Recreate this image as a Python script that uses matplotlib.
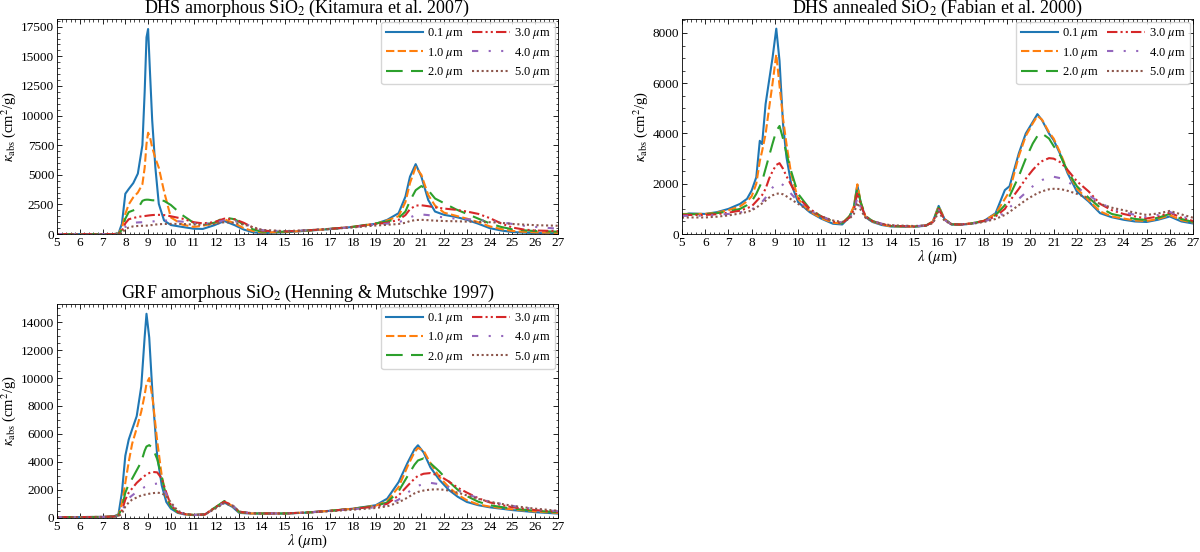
"""
plot.py

Mass absorption coefficient of SiO2 grains for several grain sizes,
three optical-constant sets (DHS amorphous, DHS annealed, GRF amorphous).
"""

import matplotlib
matplotlib.use("Agg")
import matplotlib.pyplot as plt
from matplotlib.ticker import AutoMinorLocator, MultipleLocator

plt.rcParams["font.family"] = ["Liberation Serif", "DejaVu Serif"]
plt.rcParams["mathtext.fontset"] = "stix"
plt.rcParams["xtick.direction"] = "in"
plt.rcParams["ytick.direction"] = "in"
plt.rcParams["xtick.top"] = True
plt.rcParams["ytick.right"] = True
plt.rcParams["axes.linewidth"] = 0.6

# grain sizes (legend) and line styles
sizes = ["0.1", "1.0", "2.0", "3.0", "4.0", "5.0"]
colors = ["#1f77b4", "#ff7f0e", "#2ca02c", "#d62728", "#9467bd", "#8c564b"]
styles = ["-", (0, (4, 1.6)), (0, (8, 4)), (0, (5, 1.5, 1, 1.5, 1, 1.5)),
          (0, (3, 5, 1, 5, 1, 5)), (0, (1, 1.3))]

# ---- DHS amorphous SiO2 (Kitamura et al. 2007) ----
title1 = r"DHS amorphous SiO$_2$ (Kitamura et al. 2007)"
wl1 = [5, 7.5, 7.7, 7.85, 8.0, 8.15, 8.35, 8.55, 8.75, 8.85, 8.93, 9.0, 9.08, 9.18,
       9.32, 9.47, 9.7, 10.0, 10.5, 11.0, 11.4, 11.9, 12.35, 12.8, 13.2, 13.6, 14.0,
       15, 16, 17, 18, 19, 19.5, 20.0, 20.3, 20.5, 20.75, 21.0, 21.3, 21.6, 22.0,
       22.5, 23.0, 23.5, 24.0, 24.5, 25.0, 25.5, 26.0, 27.0]
k1_01 = [0, 0, 50, 870, 3400, 3800, 4300, 5100, 7500, 12000, 16600, 17300, 13800, 9600,
         5600, 2550, 1150, 760, 600, 450, 430, 740, 1100, 750, 380, 150, 80,
         150, 280, 420, 600, 870, 1200, 1760, 3160, 4840, 5900, 4840, 2880, 1900, 1620,
         1450, 1200, 870, 500, 300, 170, 120, 80, 50]
k1_10 = [0, 0, 30, 500, 1700, 2500, 3100, 3500, 4200, 5600, 7600, 8550, 8200, 7300,
         6400, 5600, 3600, 1400, 800, 600, 700, 900, 1250, 900, 500, 250, 130,
         170, 290, 430, 610, 870, 1150, 1500, 2700, 4300, 5650, 5000, 3300, 2400, 1800,
         1550, 1300, 1000, 650, 420, 260, 190, 150, 100]
k1_20 = [0, 0, 20, 350, 1300, 1850, 2000, 2150, 2800, 2880, 2900, 2900, 2880, 2850,
         2840, 2830, 2800, 2450, 1600, 950, 800, 950, 1400, 1250, 800, 400, 200,
         200, 300, 440, 610, 900, 1050, 1350, 1900, 2800, 3700, 4050, 3700, 3000, 2600,
         2100, 1700, 1300, 900, 600, 400, 320, 250, 200]
k1_30 = [0, 0, 10, 250, 900, 1250, 1350, 1450, 1500, 1520, 1540, 1560, 1580, 1600,
         1620, 1620, 1600, 1500, 1300, 1000, 900, 1000, 1300, 1250, 950, 550, 280,
         220, 310, 440, 600, 850, 950, 1200, 1600, 2100, 2400, 2430, 2350, 2250, 2150,
         2050, 1900, 1700, 1350, 900, 550, 380, 300, 250]
k1_40 = [0, 0, 10, 150, 600, 800, 950, 980, 1000, 1000, 1000, 1000, 1020, 1050,
         1100, 1130, 1150, 1120, 1050, 900, 850, 950, 1150, 1100, 900, 600, 320,
         240, 320, 440, 580, 800, 880, 1000, 1200, 1400, 1600, 1650, 1600, 1500, 1400,
         1300, 1250, 1200, 1100, 1000, 850, 700, 600, 450]
k1_50 = [0, 0, 5, 100, 400, 550, 650, 680, 700, 700, 710, 720, 740, 760,
         800, 830, 850, 860, 850, 800, 780, 850, 1000, 950, 800, 580, 350,
         250, 320, 430, 560, 720, 780, 850, 950, 1100, 1180, 1200, 1170, 1130, 1100,
         1080, 1050, 1020, 1000, 950, 850, 800, 750, 700]

# ---- DHS annealed SiO2 (Fabian et al. 2000) ----
title2 = r"DHS annealed SiO$_2$ (Fabian et al. 2000)"
wl2 = [5.0, 5.3, 6.0, 6.5, 7.0, 7.5, 7.8, 8.0, 8.2, 8.35, 8.45, 8.6, 8.75, 8.9, 9.06,
       9.2, 9.35, 9.5, 9.7, 10.0, 10.5, 11.0, 11.5, 11.9, 12.2, 12.4, 12.55, 12.7,
       12.9, 13.2, 13.6, 14.0, 15.0, 15.5, 15.8, 16.05, 16.3, 16.6, 17.0, 17.5, 18.0,
       18.5, 18.9, 19.1, 19.5, 19.8, 20.1, 20.3, 20.5, 20.8, 21.0, 21.3, 21.6, 22.0,
       22.5, 23.0, 23.5, 24.0, 24.5, 25.0, 25.5, 26.0, 26.5, 27.0]
k2_01 = [740, 820, 800, 870, 1000, 1200, 1400, 1730, 2260, 3710, 3580, 5170, 6100, 7020, 8170,
         6890, 4380, 3050, 2000, 1270, 870, 610, 410, 380, 670, 1070, 1950, 1200,
         670, 480, 360, 300, 290, 330, 500, 1120, 600, 380, 370, 420, 520,
         830, 1750, 1900, 3210, 4000, 4460, 4770, 4530, 4000, 3740, 3140, 2420, 1690,
         1300, 830, 670, 570, 500, 480, 570, 700, 500, 420]
k2_10 = [800, 800, 800, 850, 950, 1100, 1300, 1500, 2000, 2900, 3300, 3980, 5000, 6000, 7150,
         5900, 4600, 3580, 2390, 1400, 900, 630, 450, 420, 700, 1100, 1980, 1250,
         700, 500, 380, 310, 300, 340, 500, 1100, 600, 390, 380, 430, 530,
         800, 1400, 1700, 3100, 3900, 4400, 4700, 4550, 4050, 3800, 3200, 2500, 1800,
         1350, 900, 700, 620, 540, 520, 600, 750, 550, 460]
k2_20 = [780, 790, 790, 830, 900, 1000, 1150, 1300, 1600, 1900, 2100, 2600, 3100, 3600, 4100,
         4300, 3800, 3200, 2500, 1600, 1000, 700, 500, 430, 700, 1050, 1850, 1250,
         720, 520, 390, 320, 300, 340, 480, 1050, 600, 390, 380, 430, 520,
         750, 1150, 1500, 2300, 3000, 3600, 3900, 4000, 3800, 3500, 3100, 2500, 1900,
         1450, 1050, 800, 700, 600, 560, 650, 800, 600, 480]
k2_30 = [750, 760, 760, 790, 850, 930, 1030, 1100, 1300, 1450, 1550, 1800, 2200, 2500, 2750,
         2820, 2600, 2300, 1950, 1450, 1000, 700, 500, 440, 650, 950, 1650, 1150,
         700, 520, 400, 330, 300, 340, 470, 1000, 580, 390, 380, 430, 520,
         700, 1000, 1300, 1800, 2200, 2550, 2750, 2900, 3020, 3000, 2850, 2550, 2100,
         1700, 1200, 950, 800, 700, 620, 700, 850, 650, 520]
k2_40 = [720, 730, 730, 760, 800, 860, 920, 980, 1100, 1200, 1280, 1450, 1650, 1850, 2000,
         2050, 1950, 1800, 1600, 1300, 950, 700, 520, 460, 620, 880, 1450, 1050,
         680, 520, 410, 340, 310, 340, 450, 950, 560, 390, 380, 420, 500,
         650, 850, 1050, 1400, 1650, 1900, 2050, 2150, 2250, 2280, 2220, 2080, 1850,
         1550, 1250, 1000, 880, 760, 680, 760, 880, 700, 580]
k2_50 = [650, 660, 660, 690, 740, 820, 880, 940, 1050, 1150, 1220, 1330, 1450, 1540, 1600,
         1620, 1580, 1500, 1380, 1200, 920, 700, 540, 480, 600, 800, 1250, 950,
         650, 510, 410, 350, 320, 340, 430, 880, 530, 390, 380, 410, 480,
         600, 760, 880, 1150, 1350, 1520, 1620, 1700, 1780, 1800, 1790, 1720, 1600,
         1420, 1200, 1050, 950, 850, 760, 820, 920, 780, 650]

# ---- GRF amorphous SiO2 (Henning & Mutschke 1997) ----
title3 = r"GRF amorphous SiO$_2$ (Henning & Mutschke 1997)"
wl3 = [5.0, 6.0, 7.0, 7.5, 7.7, 7.85, 8.0, 8.15, 8.3, 8.5, 8.7, 8.85, 8.93, 9.05, 9.2,
       9.4, 9.6, 9.8, 10.0, 10.3, 10.6, 11.0, 11.5, 12.0, 12.35, 12.7, 13.0, 13.5,
       14.0, 15.0, 16.0, 17.0, 18.0, 19.0, 19.5, 20.0, 20.4, 20.7, 20.85, 21.1, 21.4,
       21.8, 22.2, 22.6, 23.0, 23.5, 24.0, 25.0, 26.0, 27.0]
k3_01 = [50, 50, 60, 100, 250, 1800, 4440, 5600, 6330, 7270, 9400, 12950, 14600, 12900, 8690,
         4440, 2310, 1130, 660, 350, 240, 190, 240, 780, 1090, 780, 350, 300,
         300, 300, 370, 500, 650, 900, 1370, 2550, 3960, 4910, 5190, 4670, 3600,
         2700, 2000, 1500, 1130, 900, 750, 550, 400, 300]
k3_10 = [50, 50, 60, 100, 200, 1000, 2500, 4000, 5300, 6400, 7600, 8800, 9600, 10000, 8500,
         5500, 3000, 1500, 800, 400, 250, 200, 240, 800, 1150, 850, 400, 310,
         310, 310, 380, 500, 650, 870, 1200, 2200, 3700, 4700, 5000, 4800, 3900,
         2900, 2200, 1650, 1250, 950, 800, 600, 450, 350]
k3_20 = [50, 50, 60, 90, 170, 700, 1800, 2400, 2800, 3400, 4000, 4800, 5100, 5200, 5000,
         4200, 2900, 1500, 800, 400, 260, 200, 240, 800, 1200, 900, 420, 320,
         310, 310, 380, 500, 650, 850, 1100, 1900, 3000, 3800, 4100, 4250, 3900,
         3300, 2600, 2000, 1550, 1150, 900, 650, 500, 400]
k3_30 = [50, 50, 60, 90, 150, 500, 1300, 1800, 2100, 2500, 2800, 3000, 3100, 3200, 3280,
         3250, 2800, 1800, 900, 420, 270, 200, 240, 800, 1150, 900, 430, 330,
         310, 310, 380, 500, 640, 800, 1000, 1600, 2300, 2800, 3000, 3150, 3200,
         3000, 2600, 2150, 1800, 1400, 1100, 750, 550, 420]
k3_40 = [50, 50, 60, 80, 130, 400, 1000, 1400, 1600, 1850, 2050, 2200, 2250, 2320, 2400,
         2450, 2200, 1700, 1000, 450, 280, 200, 240, 750, 1100, 880, 450, 340,
         320, 310, 380, 490, 620, 750, 900, 1300, 1800, 2150, 2300, 2400, 2500,
         2400, 2200, 1950, 1700, 1400, 1150, 850, 620, 470]
k3_50 = [50, 50, 60, 70, 110, 300, 800, 1100, 1300, 1450, 1600, 1650, 1680, 1720, 1760,
         1800, 1750, 1550, 1100, 500, 300, 200, 240, 700, 1050, 850, 450, 340,
         320, 310, 370, 470, 580, 700, 820, 1100, 1450, 1750, 1850, 1950, 2020,
         2040, 1950, 1800, 1600, 1350, 1150, 850, 650, 500]

panels = [
    (title1, wl1, [k1_01, k1_10, k1_20, k1_30, k1_40, k1_50], 2500, False),
    (title2, wl2, [k2_01, k2_10, k2_20, k2_30, k2_40, k2_50], 2000, True),
    (title3, wl3, [k3_01, k3_10, k3_20, k3_30, k3_40, k3_50], 2000, True),
]
# axes boxes [left, bottom, width, height] in figure fraction
boxes = [
    [0.0475, 0.576, 0.4175, 0.390],
    [0.5683, 0.576, 0.4259, 0.390],
    [0.0475, 0.062, 0.4175, 0.388],
]

fig = plt.figure(figsize=(12, 5.52), dpi=100)

for (title, wl, series, ystep, xlab), box in zip(panels, boxes):
    ax = fig.add_axes(box)
    for size, k, c, ls in zip(sizes, series, colors, styles):
        ax.plot(wl, k, color=c, linestyle=ls, linewidth=1.5, label=size + r" $\mu$m")
    ax.set_xlim(5, 27)
    ax.set_ylim(bottom=0)
    ax.xaxis.set_major_locator(MultipleLocator(1))
    ax.yaxis.set_major_locator(MultipleLocator(ystep))
    ax.xaxis.set_minor_locator(AutoMinorLocator(5))
    ax.yaxis.set_minor_locator(AutoMinorLocator())
    ax.tick_params(which="major", length=3.5, width=0.6, labelsize=9.5, pad=2)
    ax.tick_params(which="minor", length=1.8, width=0.5)
    ax.set_title(title, fontsize=13, pad=2)
    ax.set_ylabel(r"$\kappa_{\rm abs}$ (cm$^2$/g)", fontsize=10.5, labelpad=2)
    if xlab:
        ax.set_xlabel(r"$\lambda$ ($\mu$m)", fontsize=10.5, labelpad=0)
    ax.legend(ncol=2, fontsize=9, loc="upper right", handlelength=3.0,
              columnspacing=0.7, handletextpad=0.3, labelspacing=0.35,
              borderpad=0.35, borderaxespad=0.25)

fig.savefig("out.png", dpi=100)
